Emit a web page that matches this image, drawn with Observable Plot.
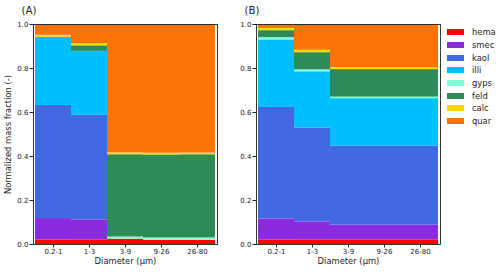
<!DOCTYPE html>
<html>
<head>
<meta charset="utf-8">
<script src="https://cdn.jsdelivr.net/npm/d3@7"></script>
<script src="https://cdn.jsdelivr.net/npm/@observablehq/plot@0.6"></script>
<style>
  body { margin: 0; background: #fff; }
  #chart { position: relative; width: 500px; height: 272px; font-family: "DejaVu Sans", sans-serif; }
  #chart .panel { position: absolute; top: 0; }
  #legend { position: absolute; left: 447px; top: 26px; }
  #legend .row { display: flex; align-items: center; height: 12.7px; font-size: 8.4px; color: #222; }
  #legend .sw { width: 17px; height: 6px; margin-right: 8px; }
</style>
</head>
<body>
<div id="chart"></div>
<script>
// Mineral classes (bottom to top of each stack) and their colours
const minerals = ["hema", "smec", "kaol", "illi", "gyps", "feld", "calc", "quar"];
const mineralColors = ["#ff0000", "#8a2be2", "#4169e1", "#00bfff", "#7fffd4", "#2e8b57", "#ffd700", "#f97306"];

// Particle diameter bins
const diameters = ["0.2-1", "1-3", "3-9", "9-26", "26-80"];
const yTicks = [0, 0.2, 0.4, 0.6, 0.8, 1.0];

// Panel (A): normalized mass fraction per mineral, one value per diameter bin
const hemaA = [0.020, 0.021, 0.024, 0.019, 0.019];
const smecA = [0.098, 0.091, 0.000, 0.000, 0.000];
const kaolA = [0.514, 0.475, 0.000, 0.000, 0.000];
const illiA = [0.310, 0.291, 0.000, 0.000, 0.000];
const gypsA = [0.000, 0.000, 0.010, 0.011, 0.011];
const feldA = [0.000, 0.025, 0.374, 0.377, 0.378];
const calcA = [0.009, 0.010, 0.009, 0.008, 0.008];
const quarA = [0.049, 0.087, 0.583, 0.585, 0.584];

// Panel (B)
const hemaB = [0.020, 0.021, 0.021, 0.021, 0.021];
const smecB = [0.096, 0.082, 0.067, 0.067, 0.067];
const kaolB = [0.507, 0.426, 0.360, 0.360, 0.360];
const illiB = [0.307, 0.256, 0.215, 0.215, 0.215];
const gypsB = [0.010, 0.009, 0.007, 0.007, 0.007];
const feldB = [0.032, 0.078, 0.125, 0.125, 0.125];
const calcB = [0.010, 0.011, 0.009, 0.009, 0.009];
const quarB = [0.018, 0.117, 0.196, 0.196, 0.196];

const seriesA = [hemaA, smecA, kaolA, illiA, gypsA, feldA, calcA, quarA];
const seriesB = [hemaB, smecB, kaolB, illiB, gypsB, feldB, calcB, quarB];

// Long-format rows for stacking
function toRows(series) {
  const rows = [];
  series.forEach((vals, m) => {
    vals.forEach((v, i) => rows.push({diameter: diameters[i], mineral: minerals[m], value: v}));
  });
  return rows;
}

function panel(series, title, showYLabel) {
  const marks = [
    Plot.barY(toRows(series), Plot.stackY({
      x: "diameter", y: "value", fill: "mineral", order: minerals, inset: 0
    })),
    Plot.frame({stroke: "#222", strokeWidth: 0.9}),
    Plot.axisX({tickSize: 3.5, tickPadding: 1.5, fontSize: 7, label: null, stroke: "#222", color: "#222"}),
    Plot.axisY({ticks: yTicks, tickFormat: d => d.toFixed(1), tickSize: 3.5, tickPadding: 1.5,
                fontSize: 7, label: null, stroke: "#222", color: "#222"}),
    Plot.text(["Diameter (µm)"], {frameAnchor: "bottom", dy: 17, lineAnchor: "middle", textAnchor: "middle",
                                  text: d => d, fontSize: 8.4, fill: "#222"}),
    Plot.text([title], {frameAnchor: "top-left", dx: -12, dy: -14, lineAnchor: "middle", textAnchor: "start",
                        text: d => d, fontSize: 10.2, fill: "#222"})
  ];
  if (showYLabel) {
    marks.push(Plot.text(["Normalized mass fraction (-)"], {
      frameAnchor: "left", dx: -25, rotate: -90, lineAnchor: "middle", textAnchor: "middle",
      text: d => d, fontSize: 8.4, fill: "#222"
    }));
  }
  return Plot.plot({
    width: 222,
    height: 272,
    marginLeft: 33,
    marginRight: 5,
    marginTop: 24,
    marginBottom: 28,
    style: {fontFamily: "DejaVu Sans, sans-serif", background: "transparent", overflow: "visible"},
    x: {domain: diameters, padding: 0, axis: null},
    y: {domain: [0, 1], axis: null},
    color: {domain: minerals, range: mineralColors},
    marks
  });
}

const chart = document.getElementById("chart");

const a = panel(seriesA, "(A)", true);
a.classList.add("panel");
a.style.left = "0px";
chart.appendChild(a);

const b = panel(seriesB, "(B)", false);
b.classList.add("panel");
b.style.left = "223px";
chart.appendChild(b);

// Legend
const legend = document.createElement("div");
legend.id = "legend";
minerals.forEach((m, i) => {
  const row = document.createElement("div");
  row.className = "row";
  const sw = document.createElement("span");
  sw.className = "sw";
  sw.style.background = mineralColors[i];
  const label = document.createElement("span");
  label.textContent = m;
  row.appendChild(sw);
  row.appendChild(label);
  legend.appendChild(row);
});
chart.appendChild(legend);
</script>
</body>
</html>
